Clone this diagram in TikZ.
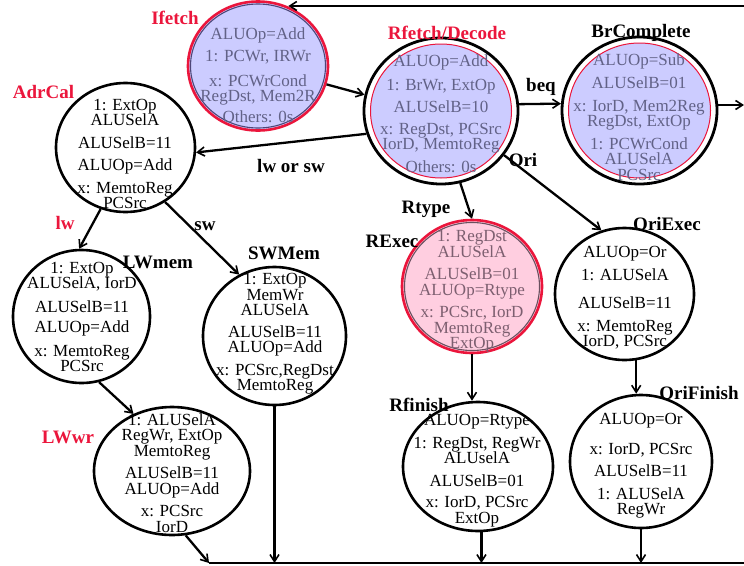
\documentclass[tikz,border=0pt]{standalone}
\usepackage{fontspec}
\setmainfont{Liberation Serif}
\usetikzlibrary{shapes.geometric,arrows.meta}

\definecolor{lav}{RGB}{204,204,255}
\definecolor{rosy}{RGB}{255,206,224}
\definecolor{hot}{RGB}{235,22,60}
\definecolor{lavtext}{RGB}{98,98,135}
\definecolor{rosytext}{RGB}{125,95,112}
\definecolor{lavrim}{RGB}{78,70,120}
\definecolor{rosyrim}{RGB}{105,80,95}

\begin{document}
\begin{tikzpicture}[x=1pt,y=-1pt,
  plain/.style={ellipse, draw=black, line width=2.6pt, inner sep=0pt},
  ring/.style={ellipse, draw=black, line width=2.8pt, fill=white, inner sep=0pt},
  core/.style={ellipse, draw=hot, line width=1pt, fill=lav, inner sep=0pt},
  hilite/.style={ellipse, draw=hot, line width=2.6pt, fill=#1, inner sep=0pt},
  rim/.style={ellipse, draw=#1, line width=1.1pt, inner sep=0pt},
  body/.style={align=center, inner sep=0pt, font=\fontsize{17}{15.5}\selectfont},
  tag/.style={inner sep=0pt, font=\fontsize{19}{19}\selectfont\bfseries},
  wire/.style={line width=2.3pt},
  arr/.style={wire, -{Straight Barb[length=7pt,width=9pt,line width=1.6pt]}}
]
\useasboundingbox (0,0) rectangle (744,565);

% ---------- states ----------
\node[hilite=lav, minimum width=140pt, minimum height=129pt] (ifetch) at (258,66) {};
\node[rim=lavrim, minimum width=135pt, minimum height=124pt] (ifetchRim) at (ifetch) {};

\node[ring, minimum width=154pt, minimum height=146pt] (rfetch) at (441,111) {};
\node[core, minimum width=141pt, minimum height=134pt] (rfetchIn) at (rfetch) {};

\node[ring, minimum width=155pt, minimum height=147pt] (brc) at (639.5,110.5) {};
\node[core, minimum width=142pt, minimum height=135pt] (brcIn) at (brc) {};

\node[plain, minimum width=139pt, minimum height=129pt] (adrcal) at (125.5,147.5) {};
\node[plain, minimum width=137pt, minimum height=133pt] (lwmem) at (81.5,316.5) {};
\node[plain, minimum width=143pt, minimum height=138pt] (swmem) at (274.5,336) {};

\node[hilite=rosy, minimum width=140pt, minimum height=133pt] (rexec) at (472,286.5) {};
\node[rim=rosyrim, minimum width=135pt, minimum height=128pt] (rexecRim) at (rexec) {};

\node[plain, minimum width=139pt, minimum height=132pt] (oriexec) at (624.5,294) {};
\node[plain, minimum width=156pt, minimum height=128pt] (lwwr) at (172,471) {};
\node[plain, minimum width=150pt, minimum height=129pt] (rfinish) at (478,466.5) {};
\node[plain, minimum width=142pt, minimum height=133pt] (orifin) at (641,461.5) {};

% ---------- state contents ----------
\node[body, text=lavtext] (ifetchT) at (258,75)
  {ALUOp=Add\\[7pt]1: PCWr, IRWr\\[9pt]x: PCWrCond\\RegDst, Mem2R\\[5pt]Others: 0s};
\node[body, text=lavtext] (rfetchT) at (441,113.5)
  {ALUOp=Add\\[8pt]1: BrWr, ExtOp\\[7pt]ALUSelB=10\\[6pt]x: RegDst, PCSrc\\IorD, MemtoReg\\[7pt]Others: 0s};
\node[body, text=lavtext] (brcT) at (639,117)
  {ALUOp=Sub\\[8pt]ALUSelB=01\\[7pt]x: IorD, Mem2Reg\\RegDst, ExtOp\\[7pt]1: PCWrCond\\ALUSelA\\PCSrc};
\node[body] (adrcalT) at (125,154)
  {1: ExtOp\\ALUSelA\\[7pt]ALUSelB=11\\[7pt]ALUOp=Add\\[7pt]x: MemtoReg\\PCSrc};
\node[body] (lwmemT) at (82,317)
  {1: ExtOp\\ALUSelA, IorD\\[8pt]ALUSelB=11\\[5pt]ALUOp=Add\\[8pt]x: MemtoReg\\PCSrc};
\node[body] (swmemT) at (275,334)
  {1: ExtOp\\MemWr\\ALUSelA\\[6pt]ALUSelB=11\\ALUOp=Add\\[7pt]x: PCSrc,RegDst\\MemtoReg};
\node[body, text=rosytext] (rexecT) at (472,291.5)
  {1: RegDst\\ALUSelA\\[7pt]ALUSelB=01\\ALUOp=Rtype\\[7pt]x: PCSrc, IorD\\MemtoReg\\ExtOp};
\node[body] (oriexecT) at (625,298)
  {ALUOp=Or\\[7pt]1: ALUSelA\\[13pt]ALUSelB=11\\[7pt]x: MemtoReg\\IorD, PCSrc};
\node[body] (lwwrT) at (172,473)
  {1: ALUSelA\\RegWr, ExtOp\\MemtoReg\\[7pt]ALUSelB=11\\ALUOp=Add\\[7pt]x: PCSrc\\IorD};
\node[body] (rfinishT) at (477,470.5)
  {ALUOp=Rtype\\[7pt]1: RegDst, RegWr\\ALUselA\\[7pt]ALUSelB=01\\[6pt]x: IorD, PCSrc\\ExtOp};
\node[body] (orifinT) at (641,466)
  {ALUOp=Or\\[14pt]x: IorD, PCSrc\\[7pt]ALUSelB=11\\[7pt]1: ALUSelA\\RegWr};

% ---------- state names ----------
\node[tag, text=hot] (nIfetch) at (175,18) {Ifetch};
\node[tag, text=hot] (nRfetch) at (447,33) {Rfetch/Decode};
\node[tag] (nBrc) at (641,33) {BrComplete};
\node[tag, text=hot] (nAdrcal) at (43.5,92) {AdrCal};
\node[tag] (nLwmem) at (158,262) {LWmem};
\node[tag] (nSwmem) at (284,253) {SWMem};
\node[tag] (nRexec) at (392,241) {RExec};
\node[tag] (nOriexec) at (667,224) {OriExec};
\node[tag] (nRfinish) at (419,405) {Rfinish};
\node[tag] (nOrifin) at (699,393) {OriFinish};
\node[tag, text=hot] (nLwwr) at (68,437) {LWwr};

% ---------- transition conditions ----------
\node[tag] (cBeq) at (541,87) {beq};
\node[tag] (cLwsw) at (291,166) {lw or sw};
\node[tag, text=hot] (cLw) at (65,223) {lw};
\node[tag] (cSw) at (205,226) {sw};
\node[tag] (cRtype) at (426,209) {Rtype};
\node[tag] (cOri) at (523,160) {Ori};

% ---------- loose ends ----------
\coordinate (topR) at (744,6);
\coordinate (brOut) at (744,104);
\coordinate (busL) at (209,563);
\coordinate (busR) at (744,563);

% ---------- transitions ----------
\draw[arr] (topR) -- (ifetch.63 |- topR);
\draw[arr] (ifetch.-15) -- (rfetch.168);
\draw[arr] (rfetch.5) -- (brc.175);
\draw[arr] (brc.4) -- (brc.4 -| brOut);
\draw[arr] (rfetch.197) -- (adrcal.-4);
\draw[arr] (adrcal.248) -- (lwmem.92);
\draw[arr] (adrcal.306) -- (swmem.120);
\draw[arr] (lwmem.285) -- (lwwr.124);
\draw[arr] (rfetch.285) -- (rexec.90);
\draw[arr] (rfetch.325) -- (oriexec.110);
\draw[arr] (rexec.south) -- (rexec.south |- rfinish.north);
\draw[arr] (oriexec.-80.5) -- (oriexec.-80.5 |- orifin.north);

% ---------- return bus ----------
\draw[wire] (busL) -- (busR);
\draw[arr] (lwwr.-78) -- (busL);
\draw[arr] (swmem.south) -- (swmem.south |- busL);
\draw[arr] (rfinish.-87) -- (rfinish.-87 |- busL);
\draw[arr] (orifin.south) -- (orifin.south |- busL);
\end{tikzpicture}
\end{document}
